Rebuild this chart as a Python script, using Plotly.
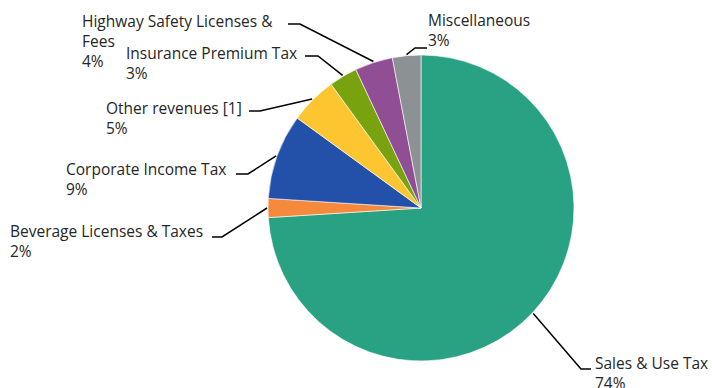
import math
import plotly.graph_objects as go

categories = ["Sales & Use Tax", "Beverage Licenses & Taxes", "Corporate Income Tax",
              "Other revenues [1]", "Insurance Premium Tax", "Highway Safety Licenses &<br>Fees",
              "Miscellaneous"]
values = [74, 2, 9, 5, 3, 4, 3]
colors = ["#29a283", "#f58a3c", "#2350a8", "#fdc530", "#78a30e", "#904f94", "#8c9194"]

W, H = 712, 388
CX, CY, R = 421, 208, 153

# label layout: elbow point, line end, text anchor (pixels)
label_layout = [
    dict(elbow=(581, 369), end=(591, 369), text=(593, 350)),
    dict(elbow=(222, 237), end=(212, 237), text=(8, 218)),
    dict(elbow=(248, 174), end=(236, 174), text=(64, 156)),
    dict(elbow=(260, 111), end=(249, 111), text=(104, 95)),
    dict(elbow=(318, 56), end=(305, 56), text=(124, 40)),
    dict(elbow=(300, 24), end=(288, 24), text=(80, 8)),
    dict(elbow=(415, 48), end=(427, 48), text=(426, 7)),
]

def px(x):
    return x / W

def py(y):
    return 1 - y / H

fig = go.Figure(go.Pie(
    labels=categories, values=values, sort=False, direction="clockwise", rotation=0,
    marker=dict(colors=colors, line=dict(color="#ffffff", width=0.6)),
    textinfo="none", hoverinfo="label+percent", showlegend=False,
    domain=dict(x=[px(CX - R), px(CX + R)], y=[py(CY + R), py(CY - R)]),
))

total = sum(values)
cum = 0
shapes = []
annotations = []
for cat, v, lay in zip(categories, values, label_layout):
    mid = (cum + v / 2) / total * 2 * math.pi
    cum += v
    sx = CX + (R + 1) * math.sin(mid)
    sy = CY - (R + 1) * math.cos(mid)
    ex, ey = lay["elbow"]
    fx, fy = lay["end"]
    shapes.append(dict(type="path", xref="paper", yref="paper",
                       path=f"M {px(sx)} {py(sy)} L {px(ex)} {py(ey)} L {px(fx)} {py(fy)}",
                       line=dict(color="#000000", width=1.5)))
    pct = round(v / total * 100)
    tx, ty = lay["text"]
    annotations.append(dict(x=px(tx), y=py(ty), xref="paper", yref="paper",
                            xanchor="left", yanchor="top", align="left", showarrow=False,
                            text=f"{cat}<br>{pct}%",
                            font=dict(family="Open Sans", size=15.5, color="#262626")))

fig.update_layout(width=W, height=H, margin=dict(l=0, r=0, t=0, b=0),
                  paper_bgcolor="white", plot_bgcolor="white",
                  shapes=shapes, annotations=annotations)
fig.write_html("out.html")
